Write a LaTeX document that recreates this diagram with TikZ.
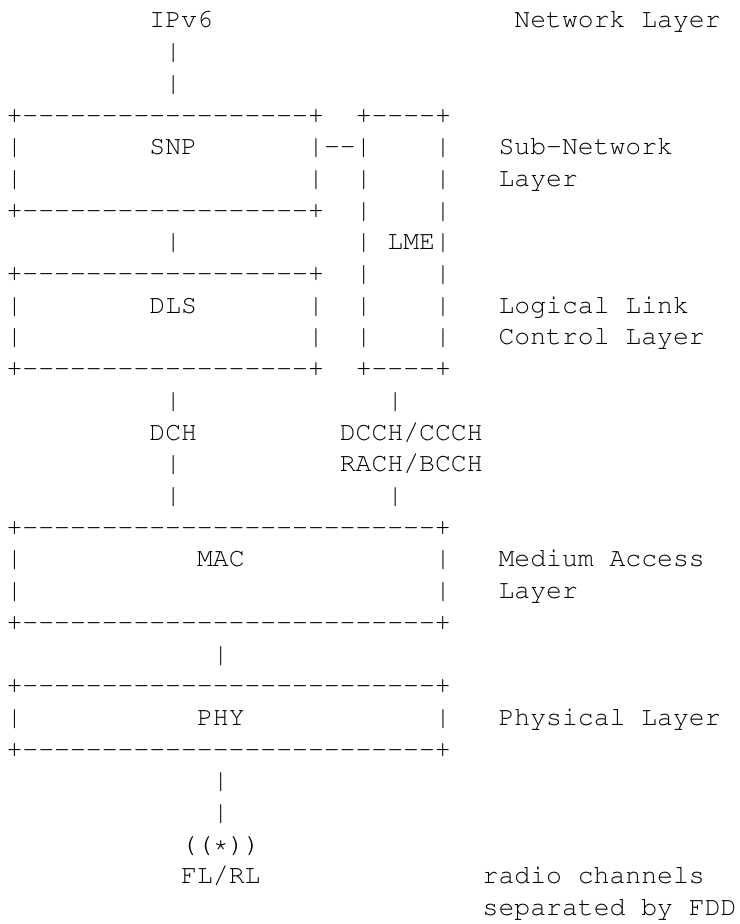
\documentclass[tikz,border=0pt]{standalone}
\usepackage[T1]{fontenc}
\usepackage{tikz}
\renewcommand\ttdefault{pcr}
\newcommand\vb{\textbar}
\newcommand\asciiline[1]{+\foreach\k in {1,...,#1}{{-}}+}
\tikzset{ascii/.style={anchor=base west, inner sep=0pt, outer sep=0pt, font=\fontsize{13.22pt}{15.85pt}\ttfamily}}

\begin{document}
\begin{tikzpicture}[x=7.935pt, y=-15.85pt]
			%%%%% START %%%%%
			\fill[white] (-0.416, 0.117) rectangle (46.15, 29.265);
			\useasboundingbox (-0.416, 0.117) rectangle (46.15, 29.265);
			
			\node[ascii] (ipv6) at (9, 1) {IPv6};
			\node[ascii] (netlayer) at (32, 1) {Network Layer};
			\node[ascii] (ipa) at (10, 2) {\vb};
			\node[ascii] (ipb) at (10, 3) {\vb};
			
			\node[ascii] (snptop) at (0, 4) {\asciiline{18}};
			\node[ascii] (lmetop) at (22, 4) {\asciiline{4}};
			\node[ascii] (snpla) at (0, 5) {\vb};
			\node[ascii] (snp) at (9, 5) {SNP};
			\node[ascii] (snplme) at (19, 5) {\vb{-}{-}\vb};
			\node[ascii] (lmera) at (27, 5) {\vb};
			\node[ascii] (subnet) at (31, 5) {Sub-Network};
			\node[ascii] (snplb) at (0, 6) {\vb};
			\node[ascii] (snprb) at (19, 6) {\vb};
			\node[ascii] (lmelb) at (22, 6) {\vb};
			\node[ascii] (lmerb) at (27, 6) {\vb};
			\node[ascii] (subnetb) at (31, 6) {Layer};
			\node[ascii] (snpbot) at (0, 7) {\asciiline{18}};
			\node[ascii] (lmelc) at (22, 7) {\vb};
			\node[ascii] (lmerc) at (27, 7) {\vb};
			
			\node[ascii] (snpdls) at (10, 8) {\vb};
			\node[ascii] (lmeld) at (22, 8) {\vb};
			\node[ascii] (lme) at (24, 8) {LME};
			\node[ascii] (lmerd) at (27, 8) {\vb};
			
			\node[ascii] (dlstop) at (0, 9) {\asciiline{18}};
			\node[ascii] (lmele) at (22, 9) {\vb};
			\node[ascii] (lmere) at (27, 9) {\vb};
			\node[ascii] (dlsla) at (0, 10) {\vb};
			\node[ascii] (dls) at (9, 10) {DLS};
			\node[ascii] (dlsra) at (19, 10) {\vb};
			\node[ascii] (lmelf) at (22, 10) {\vb};
			\node[ascii] (lmerf) at (27, 10) {\vb};
			\node[ascii] (llc) at (31, 10) {Logical Link};
			\node[ascii] (dlslb) at (0, 11) {\vb};
			\node[ascii] (dlsrb) at (19, 11) {\vb};
			\node[ascii] (lmelg) at (22, 11) {\vb};
			\node[ascii] (lmerg) at (27, 11) {\vb};
			\node[ascii] (llcb) at (31, 11) {Control Layer};
			\node[ascii] (dlsbot) at (0, 12) {\asciiline{18}};
			\node[ascii] (lmebot) at (22, 12) {\asciiline{4}};
			
			\node[ascii] (dcha) at (10, 13) {\vb};
			\node[ascii] (ctla) at (24, 13) {\vb};
			\node[ascii] (dch) at (9, 14) {DCH};
			\node[ascii] (ctl) at (21, 14) {DCCH/CCCH};
			\node[ascii] (dchb) at (10, 15) {\vb};
			\node[ascii] (ctlb) at (21, 15) {RACH/BCCH};
			\node[ascii] (dchc) at (10, 16) {\vb};
			\node[ascii] (ctlc) at (24, 16) {\vb};
			
			\node[ascii] (mactop) at (0, 17) {\asciiline{26}};
			\node[ascii] (macla) at (0, 18) {\vb};
			\node[ascii] (mac) at (12, 18) {MAC};
			\node[ascii] (macra) at (27, 18) {\vb};
			\node[ascii] (macl) at (31, 18) {Medium Access};
			\node[ascii] (maclb) at (0, 19) {\vb};
			\node[ascii] (macrb) at (27, 19) {\vb};
			\node[ascii] (maclayer) at (31, 19) {Layer};
			\node[ascii] (macbot) at (0, 20) {\asciiline{26}};
			
			\node[ascii] (macphy) at (13, 21) {\vb};
			
			\node[ascii] (phytop) at (0, 22) {\asciiline{26}};
			\node[ascii] (phyl) at (0, 23) {\vb};
			\node[ascii] (phy) at (12, 23) {PHY};
			\node[ascii] (phyr) at (27, 23) {\vb};
			\node[ascii] (phylayer) at (31, 23) {Physical Layer};
			\node[ascii] (phybot) at (0, 24) {\asciiline{26}};
			
			\node[ascii] (anta) at (13, 25) {\vb};
			\node[ascii] (antb) at (13, 26) {\vb};
			\node[ascii] (ant) at (11, 27) {((*))};
			\node[ascii] (flrl) at (11, 28) {FL/RL};
			\node[ascii] (radio) at (30, 28) {radio channels};
			\node[ascii] (fdd) at (30, 29) {separated by FDD};
			
			%%%%% END %%%%%
\end{tikzpicture}
\end{document}
